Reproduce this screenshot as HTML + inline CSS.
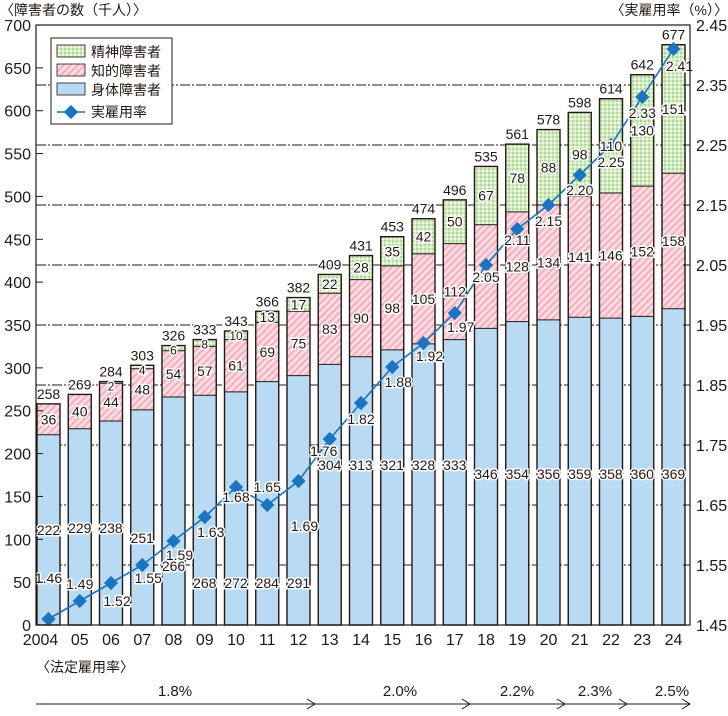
<!DOCTYPE html>
<html><head><meta charset="utf-8"><style>
body{margin:0;background:#fff}
text{font-family:"Liberation Sans","Noto Sans CJK JP",sans-serif;fill:#231815}
</style></head><body>
<svg id="s" width="728" height="711" xmlns="http://www.w3.org/2000/svg">
<defs>
<pattern id="g" width="4" height="4" patternUnits="userSpaceOnUse"><rect width="4" height="4" fill="#d3ebc0"/><rect width="2" height="2" fill="#afd996"/><rect x="2" y="2" width="2" height="2" fill="#eef7e6"/></pattern>
<pattern id="p" width="5" height="5" patternUnits="userSpaceOnUse" patternTransform="rotate(45)"><rect width="5" height="5" fill="#fadde3"/><rect width="2" height="5" fill="#f3aebc"/></pattern>
</defs>
<g id="c"></g>
</svg>
<script>
var B=[222,229,238,251,266,268,272,284,291,304,313,321,328,333,346,354,356,359,358,360,369];
var I=[36,40,44,48,54,57,61,69,75,83,90,98,105,112,121,128,134,141,146,152,158];
var M=[0,0,2,4,6,8,10,13,17,22,28,35,42,50,67,78,88,98,110,130,151];
var T=[258,269,284,303,326,333,343,366,382,409,431,453,474,496,535,561,578,598,614,642,677];
var R=[1.46,1.49,1.52,1.55,1.59,1.63,1.68,1.65,1.69,1.76,1.82,1.88,1.92,1.97,2.05,2.11,2.15,2.20,2.25,2.33,2.41];
var RY=[578,584,601,578,555,532,497,487,526,451,419,382,356,327,277,240,221,190,162,113,66];
var RDX=[0,0,6,6,6,6,0,0,6,-6,0,6,6,6,0,0,0,0,0,0,6];
var BY=[530,528,528,538,566,583,583,583,583,465,465,465,465,465,474,474,474,474,474,474,474];
var X=["2004","05","06","07","08","09","10","11","12","13","14","15","16","17","18","19","20","21","22","23","24"];
var h='';
function y(v){return 625-v*600/700}
function ry(r){return 625-(r-1.45)*600}
for(var k=1;k<10;k++){var yy=ry(1.45+k*0.1);h+='<line x1="36" x2="690" y1="'+yy+'" y2="'+yy+'" stroke="#231815" stroke-width="0.9" stroke-dasharray="10,2,2,2"/>';}
function lab(x,yy,t,sz){sz=sz||14;return '<text x="'+x+'" y="'+yy+'" font-size="'+sz+'" text-anchor="middle" stroke="#fff" stroke-width="3" style="paint-order:stroke" fill="#231815">'+t+'</text>';}
var L='';
for(var i=0;i<21;i++){
 var x=37+i*31.25,w=23,cx=x+w/2;
 var y0=625,y1=y(B[i]),y2=y(B[i]+I[i]),y3=y(T[i]);
 h+='<rect x="'+x+'" y="'+y1+'" width="'+w+'" height="'+(y0-y1)+'" fill="#b8daf2"/>';
 h+='<rect x="'+x+'" y="'+y2+'" width="'+w+'" height="'+(y1-y2)+'" fill="url(#p)"/>';
 if(M[i])h+='<rect x="'+x+'" y="'+y3+'" width="'+w+'" height="'+(y2-y3)+'" fill="url(#g)"/>';
 h+='<line x1="'+x+'" x2="'+(x+w)+'" y1="'+y1+'" y2="'+y1+'" stroke="#231815"/>';
 if(M[i])h+='<line x1="'+x+'" x2="'+(x+w)+'" y1="'+y2+'" y2="'+y2+'" stroke="#231815"/>';
 h+='<rect x="'+x+'" y="'+y3+'" width="'+w+'" height="'+(y0-y3)+'" fill="none" stroke="#231815" stroke-width="1.4"/>';
 L+=lab(cx,BY[i]+5,B[i]);
 L+=lab(cx,(y1+y2)/2+5,I[i]);
 if(M[i]){var my=(y2+y3)/2+5; if(M[i]<12)my=y3+9; L+=lab(cx,my,M[i],M[i]<12?12:14);}
 L+=lab(cx,y3-5,T[i]);
 h+='<text x="'+(i==0?cx-8:cx)+'" y="645" font-size="16" text-anchor="middle">'+X[i]+'</text>';
}
var pts=R.map(function(r,i){return (48.5+i*31.25)+','+ry(r)}).join(' ');
h+='<polyline points="'+pts+'" fill="none" stroke="#1a74bf" stroke-width="1.6"/>';
R.forEach(function(r,i){var cx=48.5+i*31.25,cy=ry(r);h+='<rect x="'+(cx-5)+'" y="'+(cy-5)+'" width="10" height="10" fill="#1a74bf" transform="rotate(45 '+cx+' '+cy+')"/>';
 L+=lab(cx+RDX[i],RY[i]+5,r.toFixed(2));});
h+=L;
h+='<rect x="36" y="25" width="654" height="600" fill="none" stroke="#231815" stroke-width="1.2"/>';
for(var v=0;v<=700;v+=50){var yy=y(v);h+='<line x1="36" x2="43" y1="'+yy+'" y2="'+yy+'" stroke="#231815"/><text x="31" y="'+(yy+6)+'" font-size="16" text-anchor="end">'+v+'</text>';}
for(var k=0;k<=10;k++){var r=1.45+k*0.1,yy=ry(r);h+='<line x1="683" x2="690" y1="'+yy+'" y2="'+yy+'" stroke="#231815"/><text x="696" y="'+(yy+6)+'" font-size="16">'+r.toFixed(2)+'</text>';}
h+='<text x="0" y="15" font-size="14">〈障害者の数（千人）〉</text>';
h+='<text x="728" y="15" font-size="14" text-anchor="end">〈実雇用率（%）〉</text>';
h+='<rect x="51" y="38" width="121" height="86" fill="#fff" stroke="#231815"/>';
var lg=[['url(#g)','精神障害者'],['url(#p)','知的障害者'],['#b8daf2','身体障害者']];
lg.forEach(function(a,j){var yy=45+j*19;h+='<rect x="57" y="'+yy+'" width="28" height="12" fill="'+a[0]+'" stroke="#231815" stroke-width="0.8"/><text x="91" y="'+(yy+12)+'" font-size="14">'+a[1]+'</text>';});
h+='<line x1="57" x2="85" y1="112" y2="112" stroke="#1a74bf" stroke-width="1.6"/><rect x="66" y="107" width="10" height="10" fill="#1a74bf" transform="rotate(45 71 112)"/><text x="91" y="117" font-size="14">実雇用率</text>';
h+='<text x="36" y="672" font-size="14">〈法定雇用率〉</text>';
var seg=[[36,315,'1.8%',175],[315,470,'2.0%',400],[470,565,'2.2%',517],[565,627,'2.3%',595],[627,690,'2.5%',672]];
seg.forEach(function(s){h+='<line x1="'+s[0]+'" x2="'+s[1]+'" y1="704" y2="704" stroke="#231815"/><polyline points="'+(s[1]-8)+',699 '+s[1]+',704 '+(s[1]-8)+',709" fill="none" stroke="#231815"/><text x="'+s[3]+'" y="696" font-size="15" text-anchor="middle">'+s[2]+'</text>';});
document.getElementById('c').innerHTML=h;
</script>
</body></html>
